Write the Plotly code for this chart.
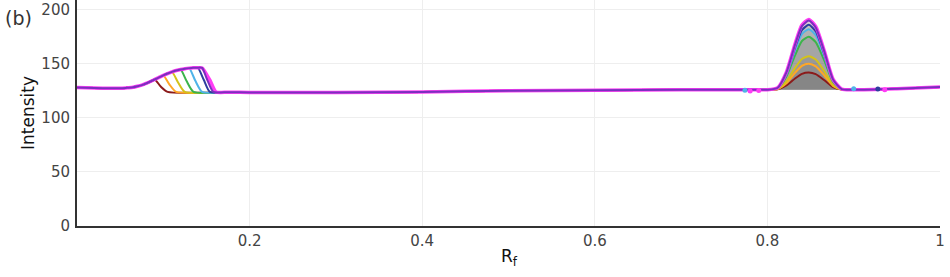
import plotly.graph_objects as go

# ---------------- data ----------------
SERIES_NAMES = ["s1", "s2", "s3", "s4", "s5", "s6", "s7", "s8"]
SERIES_COLORS = ["#8b1a1a", "#ffa726", "#d4c21a", "#3cb44b", "#4fb3e8", "#2c3e9e", "#7b2fbe", "#ff3df5"]

# leading baseline (before the first band)
START_X = [0.0, 0.03, 0.05, 0.058]
START_Y = [128.0, 127.5, 127.3, 127.8]

# rising front of the first band (shared by all series)
ENV_X = [0.065, 0.07, 0.075, 0.08, 0.085, 0.09, 0.095, 0.10, 0.105, 0.11, 0.115,
         0.12, 0.125, 0.13, 0.135, 0.14, 0.145, 0.15]
ENV_Y = [128.3, 129.2, 130.3, 131.8, 133.6, 135.5, 137.5, 139.3, 141.0, 142.5, 143.8,
         144.8, 145.5, 146.0, 146.3, 146.4, 146.2, 145.8]

# Rf where each series starts to drop, midway level point, and where it lands
DROP_START = [0.09, 0.10, 0.11, 0.12, 0.13, 0.14, 0.145, 0.148]
DROP_MID_X = [0.097, 0.107, 0.117, 0.127, 0.137, 0.147, 0.151, 0.154]
DROP_MID_Y = [129.0, 131.0, 133.0, 134.0, 134.5, 135.0, 135.0, 134.8]
DROP_END = [0.105, 0.115, 0.125, 0.135, 0.145, 0.154, 0.158, 0.161]
DROP_LEVEL = 124.0

# baseline between the two bands
MID_X = [0.175, 0.2, 0.3, 0.4, 0.5, 0.6, 0.7, 0.78]
MID_Y = [123.8, 123.5, 123.4, 124.0, 125.0, 125.6, 126.0, 126.0]

# second band (Rf ~ 0.85)
PEAK_X = [0.80, 0.812, 0.822, 0.832, 0.84, 0.848, 0.856, 0.866, 0.876, 0.886, 0.90]
PEAK_Y = [
    [126, 126.5, 130.0, 136.4, 140.7, 142, 140.4, 134.8, 128.4, 126.2, 126],
    [126, 126.7, 132.0, 141.6, 148.1, 150, 147.6, 139.2, 129.6, 126.2, 126],
    [126, 126.9, 133.8, 146.2, 154.5, 157, 153.9, 143.1, 130.7, 126.3, 126],
    [126, 127.5, 138.3, 157.9, 171.1, 175, 170.1, 153.0, 133.4, 126.5, 126],
    [126, 127.7, 140.0, 162.4, 177.5, 182, 176.4, 156.8, 134.4, 126.6, 126],
    [126, 127.8, 141.0, 165.0, 181.2, 186, 180.0, 159.0, 135.0, 126.6, 126],
    [126, 127.9, 142.0, 167.6, 184.9, 190, 183.6, 161.2, 135.6, 126.6, 126],
    [126, 128.0, 142.3, 168.3, 185.8, 191, 184.5, 161.8, 135.8, 126.7, 126],
]

# trailing baseline
END_X = [0.95, 1.0]
END_Y = [127.0, 128.5]

# small stray points
DOT_X = [0.774, 0.78, 0.79, 0.90, 0.928, 0.936]
DOT_Y = [125.5, 124.8, 125.2, 127.0, 126.6, 126.0]
DOT_C = ["#4fb3e8", "#ff3df5", "#ff3df5", "#4fb3e8", "#2c3e9e", "#ff3df5"]

X_TICKS = [0.2, 0.4, 0.6, 0.8, 1]
X_TICK_TEXT = ["0.2", "0.4", "0.6", "0.8", "1"]
Y_TICKS = [0, 50, 100, 150, 200]

# ---------------- build ----------------
def series(i):
    xs = list(START_X)
    ys = list(START_Y)
    for x, y in zip(ENV_X, ENV_Y):
        if x <= DROP_START[i]:
            xs.append(x)
            ys.append(y)
    xs += [DROP_MID_X[i], DROP_END[i]]
    ys += [DROP_MID_Y[i], DROP_LEVEL]
    xs += MID_X + PEAK_X + END_X
    ys += MID_Y + PEAK_Y[i] + END_Y
    return xs, ys

fig = go.Figure()

# gray fill under the second band
for i in range(len(SERIES_NAMES)):
    fig.add_trace(go.Scatter(
        x=PEAK_X, y=PEAK_Y[i], mode="lines", fill="toself",
        fillcolor="rgba(80,80,80,0.13)", line=dict(width=0, shape="spline"),
        hoverinfo="skip", showlegend=False))

draw_order = [0, 1, 2, 3, 4, 5, 7, 6]
for i in draw_order:
    xs, ys = series(i)
    w = 3.5 if SERIES_NAMES[i] == "s8" else 2
    fig.add_trace(go.Scatter(
        x=xs, y=ys, mode="lines", name=SERIES_NAMES[i],
        line=dict(color=SERIES_COLORS[i], width=w, shape="spline", smoothing=0.6),
        showlegend=False))

fig.add_trace(go.Scatter(
    x=DOT_X, y=DOT_Y, mode="markers",
    marker=dict(color=DOT_C, size=5), showlegend=False))

fig.update_layout(
    width=950, height=277,
    margin=dict(l=77, r=10, t=0, b=51),
    paper_bgcolor="white", plot_bgcolor="white",
    font=dict(family="DejaVu Sans, Verdana, sans-serif", size=15, color="#444"),
    xaxis=dict(range=[0, 1], tickvals=X_TICKS, ticktext=X_TICK_TEXT,
               showgrid=True, gridcolor="#eeeeee", zeroline=False,
               showline=True, linecolor="#333", linewidth=2,
               ticks="", tickfont=dict(size=15, color="#444")),
    yaxis=dict(range=[0, 209], tickvals=Y_TICKS,
               showgrid=True, gridcolor="#eeeeee", zeroline=False,
               showline=True, linecolor="#333", linewidth=2,
               ticks="", ticklabelstandoff=2, tickfont=dict(size=15, color="#444")),
    annotations=[
        dict(text="(b)", xref="paper", yref="paper", x=(3 - 77) / 863, y=1 - 18 / 226,
             xanchor="left", yanchor="middle", showarrow=False,
             font=dict(size=19, color="#333")),
        dict(text="Intensity", xref="paper", yref="paper", x=(28 - 77) / 863, y=1 - 113 / 226,
             xanchor="center", yanchor="middle", textangle=-90, showarrow=False,
             font=dict(size=17, color="#111")),
        dict(text="R<sub>f</sub>", xref="paper", yref="paper", x=(510 - 77) / 863, y=1 - 257 / 226,
             xanchor="center", yanchor="middle", showarrow=False,
             font=dict(size=17, color="#111")),
    ],
)

fig.write_html("out.html")
